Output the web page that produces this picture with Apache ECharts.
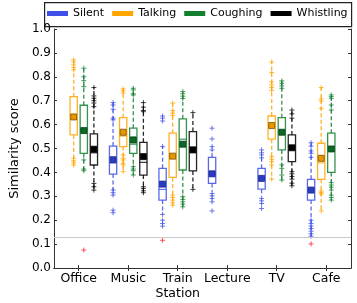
<!DOCTYPE html>
<html><head><meta charset="utf-8">
<script src="https://cdn.jsdelivr.net/npm/echarts@6/dist/echarts.min.js"></script>
<style>html,body{margin:0;padding:0;background:#fff}#c{width:357px;height:303px}</style>
</head><body><div id="c"></div>
<script>
const categories = ['Office', 'Music', 'Train\nStation', 'Lecture', 'TV', 'Cafe'];
const seriesNames = ['Silent', 'Talking', 'Coughing', 'Whistling'];
const yTicks = [0, 0.1, 0.2, 0.3, 0.4, 0.5, 0.6, 0.7, 0.8, 0.9, 1.0];
const refLine = 0.127;

// rows: [categoryIndex, whiskerLow, q1, median, q3, whiskerHigh, mean]
const silentBoxes = [
  [1, 0.325, 0.393, 0.440, 0.510, 0.692, 0.453],
  [2, 0.228, 0.284, 0.329, 0.417, 0.508, 0.351],
  [3, 0.320, 0.354, 0.392, 0.463, 0.494, 0.394],
  [4, 0.300, 0.330, 0.375, 0.417, 0.461, 0.375],
  [5, 0.133, 0.284, 0.326, 0.371, 0.524, 0.326]
];
const talkingBoxes = [
  [0, 0.431, 0.557, 0.630, 0.717, 0.871, 0.632],
  [1, 0.403, 0.508, 0.552, 0.629, 0.750, 0.568],
  [2, 0.263, 0.379, 0.468, 0.564, 0.690, 0.468],
  [4, 0.372, 0.539, 0.590, 0.636, 0.862, 0.596],
  [5, 0.239, 0.371, 0.440, 0.522, 0.755, 0.459]
];
const coughingBoxes = [
  [0, 0.407, 0.480, 0.580, 0.681, 0.836, 0.575],
  [1, 0.389, 0.480, 0.518, 0.585, 0.752, 0.536],
  [2, 0.256, 0.410, 0.539, 0.624, 0.738, 0.518],
  [4, 0.368, 0.494, 0.575, 0.629, 0.783, 0.568],
  [5, 0.284, 0.400, 0.505, 0.564, 0.724, 0.498]
];
const whistlingBoxes = [
  [0, 0.326, 0.431, 0.482, 0.561, 0.755, 0.497],
  [1, 0.315, 0.389, 0.442, 0.526, 0.692, 0.466],
  [2, 0.329, 0.406, 0.505, 0.571, 0.650, 0.494],
  [4, 0.344, 0.445, 0.508, 0.557, 0.661, 0.503]
];

// outliers: [categoryIndex, [values]]
const silentOutliers = [
  [1, [0.692, 0.682, 0.664, 0.627, 0.620, 0.326, 0.315, 0.305, 0.242, 0.231]],
  [2, [0.636, 0.627, 0.615, 0.508, 0.224, 0.200, 0.186, 0.175]],
  [3, [0.585, 0.540, 0.508, 0.494, 0.312, 0.302, 0.291, 0.277, 0.239]],
  [4, [0.494, 0.482, 0.473, 0.461, 0.291, 0.281, 0.270, 0.249]],
  [5, [0.524, 0.510, 0.490, 0.480, 0.463, 0.200, 0.186, 0.176, 0.165, 0.154, 0.143, 0.133]]
];
const talkingOutliers = [
  [0, [0.871, 0.862, 0.850, 0.839, 0.829, 0.459, 0.449, 0.440, 0.431]],
  [1, [0.750, 0.741, 0.732, 0.473, 0.459, 0.452, 0.438, 0.431, 0.403]],
  [2, [0.690, 0.659, 0.648, 0.638, 0.305, 0.295, 0.284, 0.273, 0.263]],
  [4, [0.862, 0.818, 0.778, 0.766, 0.755, 0.743, 0.466, 0.455, 0.445, 0.431, 0.372]],
  [5, [0.755, 0.708, 0.699, 0.668, 0.322, 0.315, 0.309, 0.239]]
];
const coughingOutliers = [
  [0, [0.836, 0.800, 0.784, 0.759, 0.452, 0.414, 0.407]],
  [1, [0.752, 0.745, 0.729, 0.724, 0.424, 0.414, 0.407, 0.389]],
  [2, [0.738, 0.729, 0.719, 0.709, 0.298, 0.287, 0.277, 0.267, 0.256]],
  [4, [0.783, 0.773, 0.762, 0.752, 0.431, 0.417, 0.389, 0.368]],
  [5, [0.724, 0.717, 0.710, 0.682, 0.661, 0.357, 0.347, 0.338, 0.326, 0.305, 0.295, 0.284]]
];
const whistlingOutliers = [
  [0, [0.755, 0.720, 0.710, 0.700, 0.690, 0.675, 0.354, 0.340, 0.326]],
  [1, [0.692, 0.673, 0.659, 0.654, 0.340, 0.333, 0.323, 0.315]],
  [2, [0.650, 0.329]],
  [4, [0.661, 0.645, 0.627, 0.403, 0.394, 0.383, 0.372, 0.355, 0.344]]
];
// low outliers drawn in red: [categoryIndex, seriesIndex, value]
const redOutliers = [[0, 2, 0.075], [2, 0, 0.116], [5, 0, 0.101]];

const colors = ['#3d4fe6', '#ffa500', '#12802f', '#000000'];
const meanFill = ['#2a3cc4', '#e89600', '#0b6a24', '#000000'];
const meanStroke = ['#1a2680', '#7a5000', '#053d14', '#000000'];
const boxSets = [silentBoxes, talkingBoxes, coughingBoxes, whistlingBoxes];
const outSets = [silentOutliers, talkingOutliers, coughingOutliers, whistlingOutliers];

function offsetFor(api, sIdx) {
  const band = api.size([1, 0])[0];
  const avail = band * 0.8 - 2;
  const gap = avail / 4 * 0.3;
  const w = (avail - 3 * gap) / 4;
  return { off: w / 2 - avail / 2 + sIdx * (w + gap), w: w };
}

function boxRenderer(sIdx) {
  return function (params, api) {
    const cat = api.value(0);
    const o = offsetFor(api, sIdx);
    const x = api.coord([cat, 0])[0] + o.off;
    const y = v => api.coord([cat, v])[1];
    const lo = y(api.value(1)), q1 = y(api.value(2)), md = y(api.value(3)),
          q3 = y(api.value(4)), hi = y(api.value(5)), mn = y(api.value(6));
    const c = colors[sIdx];
    const hw = o.w / 2;
    const dash = { stroke: c, lineWidth: 1.3, lineDash: [4, 2.5], opacity: 0.85 };
    return {
      type: 'group',
      children: [
        { type: 'line', shape: { x1: x, y1: q3, x2: x, y2: hi }, style: dash },
        { type: 'line', shape: { x1: x, y1: q1, x2: x, y2: lo }, style: dash },
        { type: 'rect', shape: { x: x - hw, y: q3, width: o.w, height: q1 - q3 },
          style: { fill: 'rgba(255,255,255,0.9)', stroke: c, lineWidth: 1.3, opacity: 0.85 } },
        { type: 'line', shape: { x1: x - hw, y1: md, x2: x + hw, y2: md },
          style: { stroke: c, lineWidth: 1.2, opacity: 0.8 } },
        { type: 'rect', shape: { x: x - 3, y: mn - 3, width: 6, height: 6 },
          style: { fill: meanFill[sIdx], stroke: meanStroke[sIdx], lineWidth: 0.8 } }
      ]
    };
  };
}

function outlierRenderer(sIdx, color) {
  return function (params, api) {
    const cat = api.value(0);
    const o = offsetFor(api, sIdx);
    const p = api.coord([cat, api.value(1)]);
    const x = p[0] + o.off, yy = p[1], r = 2.5;
    return {
      type: 'group',
      children: [
        { type: 'line', shape: { x1: x - r, y1: yy, x2: x + r, y2: yy }, style: { stroke: color, lineWidth: 1, opacity: 0.75 } },
        { type: 'line', shape: { x1: x, y1: yy - r, x2: x, y2: yy + r }, style: { stroke: color, lineWidth: 1, opacity: 0.75 } }
      ]
    };
  };
}

const series = [];
seriesNames.forEach((name, i) => {
  series.push({
    name: name, type: 'custom', itemStyle: { color: colors[i] },
    renderItem: boxRenderer(i), encode: { x: 0, y: [1, 2, 3, 4, 5, 6] },
    data: boxSets[i], z: 3
  });
});
seriesNames.forEach((name, i) => {
  const pts = [];
  outSets[i].forEach(r => r[1].forEach(v => pts.push([r[0], v])));
  series.push({
    name: name, type: 'custom', itemStyle: { color: colors[i] },
    renderItem: outlierRenderer(i, colors[i]), encode: { x: 0, y: 1 },
    data: pts, z: 4
  });
});
[0, 1, 2, 3].forEach(i => {
  const pts = redOutliers.filter(r => r[1] === i).map(r => [r[0], r[2]]);
  if (pts.length) series.push({
    name: 'low-' + i, type: 'custom', renderItem: outlierRenderer(i, '#ff2020'),
    encode: { x: 0, y: 1 }, data: pts, z: 4
  });
});
series.push({
  name: 'ref', type: 'line', data: [], z: 1, silent: true,
  markLine: { silent: true, symbol: 'none', label: { show: false },
    lineStyle: { color: '#c8c8c8', width: 1, type: 'solid' },
    data: [{ yAxis: refLine }] }
});

const axisLine = { show: true, lineStyle: { color: '#333', width: 1 } };
const font = 'DejaVu Sans';
const chart = echarts.init(document.getElementById('c'), null, { renderer: 'canvas' });
chart.setOption({
  animation: false,
  textStyle: { fontFamily: font },
  grid: { left: 43, right: 6, top: 29, bottom: 35 },
  legend: {
    data: seriesNames, left: 47, top: 8, width: 340, padding: 0, orient: 'horizontal',
    icon: 'rect', itemWidth: 21, itemHeight: 5, itemGap: 8,
    textStyle: { fontFamily: font, fontSize: 11, color: '#000' }, selectedMode: false
  },
  graphic: [{
    type: 'rect', left: 44, top: 2, z: 0,
    shape: { width: 307, height: 24 },
    style: { fill: '#fff', stroke: '#222', lineWidth: 1.2 }
  }],
  xAxis: [{
    type: 'category', data: categories, position: 'bottom',
    axisLine: axisLine,
    axisTick: { show: true, inside: true, length: 3, alignWithLabel: true, lineStyle: { color: '#333' } },
    axisLabel: { interval: 0, fontFamily: font, fontSize: 12.5, color: '#000', margin: 3, lineHeight: 15 },
    splitLine: { show: false }
  }, {
    type: 'category', data: categories, position: 'top',
    axisLine: axisLine,
    axisTick: { show: true, inside: true, length: 3, alignWithLabel: true, interval: 0, lineStyle: { color: '#333' } },
    axisLabel: { show: false }, splitLine: { show: false }
  }],
  yAxis: [{
    type: 'value', min: yTicks[0], max: yTicks[yTicks.length - 1], interval: 0.1, position: 'left',
    name: 'Similarity score', nameLocation: 'middle', nameGap: 28,
    nameTextStyle: { fontFamily: font, fontSize: 13, color: '#000' },
    axisLine: axisLine,
    axisTick: { show: true, inside: true, length: 3, lineStyle: { color: '#333' } },
    axisLabel: { fontFamily: font, fontSize: 12, color: '#000', margin: 3, formatter: v => v.toFixed(1) },
    splitLine: { show: false }
  }, {
    type: 'value', min: yTicks[0], max: yTicks[yTicks.length - 1], interval: 0.1, position: 'right',
    axisLine: axisLine,
    axisTick: { show: true, inside: true, length: 3, lineStyle: { color: '#333' } },
    axisLabel: { show: false }, splitLine: { show: false }
  }],
  series: series
});
</script></body></html>
